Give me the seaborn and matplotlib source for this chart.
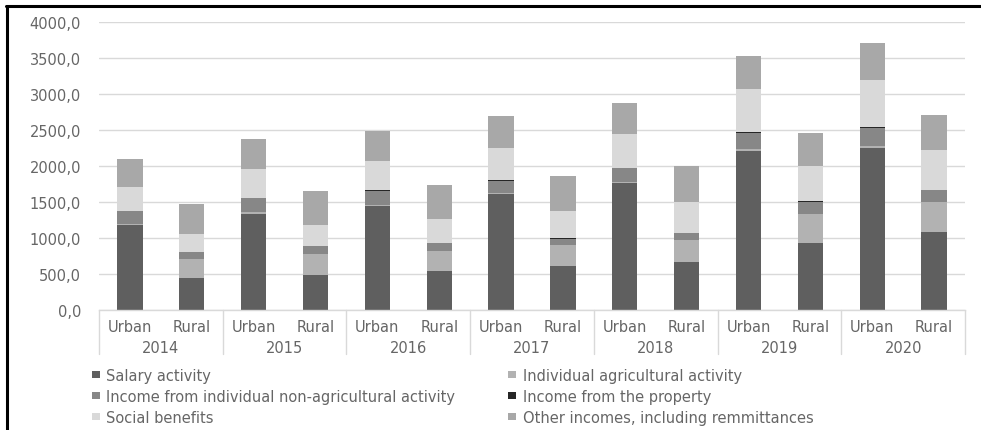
import matplotlib
matplotlib.use("Agg")
import matplotlib.pyplot as plt
import matplotlib.transforms as mtransforms
from matplotlib.lines import Line2D
from matplotlib.patches import Patch
import seaborn as sns
import pandas as pd
import numpy as np

# ---- data ----
years = ["2014", "2015", "2016", "2017", "2018", "2019", "2020"]
areas = ["Urban", "Rural"]

salary = [1187, 452, 1334, 494, 1440, 545, 1607, 609, 1759, 674, 2212, 937, 2253, 1090]
agricultural = [12, 264, 23, 286, 19, 272, 14, 291, 19, 296, 18, 402, 23, 415]
non_agricultural = [172, 94, 194, 108, 198, 113, 178, 94, 189, 98, 234, 157, 254, 159]
property_income = [5, 3, 10, 3, 14, 3, 6, 3, 9, 3, 6, 14, 10, 3]
social_benefits = [332, 249, 392, 291, 397, 327, 448, 379, 466, 425, 596, 494, 655, 558]
other_incomes = [383, 415, 416, 466, 416, 471, 439, 489, 434, 503, 457, 448, 503, 476]

series_names = [
    "Salary activity",
    "Individual agricultural activity",
    "Income from individual non-agricultural activity",
    "Income from the property",
    "Social benefits",
    "Other incomes, including remmittances",
]
series_colors = ["#5f5f5f", "#b2b2b2", "#878787", "#262626", "#d9d9d9", "#a8a8a8"]

y_ticks = [0, 500, 1000, 1500, 2000, 2500, 3000, 3500, 4000]
y_tick_labels = ["0,0", "500,0", "1000,0", "1500,0", "2000,0", "2500,0", "3000,0", "3500,0", "4000,0"]

# ---- figure ----
sns.set_theme(style="white")
plt.rcParams["font.family"] = ["DejaVu Sans"]
FS = 10.5
TXT = "#666666"

W, H = 981, 431
fig = plt.figure(figsize=(W / 100, H / 100), dpi=100)
ax_left, ax_right, ax_bottom_px, ax_top_px = 99, 965, 311.3, 22.7
ax = fig.add_axes([ax_left / W, 1 - ax_bottom_px / H,
                   (ax_right - ax_left) / W, (ax_bottom_px - ax_top_px) / H])

cats = [f"{y} {a}" for y in years for a in areas]
df = pd.DataFrame({"cat": cats})
for name, vals in zip(series_names, [salary, agricultural, non_agricultural,
                                     property_income, social_benefits, other_incomes]):
    df[name] = vals
cum = df[series_names].cumsum(axis=1)

for name, col in reversed(list(zip(series_names, series_colors))):
    layer = pd.DataFrame({"cat": df["cat"], "value": cum[name]})
    sns.barplot(data=layer, x="cat", y="value", order=cats, color=col,
                width=0.41, saturation=1, errorbar=None, linewidth=0, ax=ax)

ax.set_xlabel("")
ax.set_ylabel("")
ax.set_ylim(0, 4000)
ax.set_xlim(-0.5, len(cats) - 0.5)
ax.set_yticks(y_ticks)
ax.set_yticklabels(y_tick_labels, fontsize=FS, color=TXT)
ax.set_xticks(range(len(cats)))
ax.set_xticklabels(areas * len(years), fontsize=FS, color=TXT)
ax.tick_params(axis="y", length=0, pad=13)
ax.tick_params(axis="x", length=0, pad=6)
ax.set_axisbelow(True)
ax.yaxis.grid(True, color="#d9d9d9", lw=1)
for s in ["top", "right", "left"]:
    ax.spines[s].set_visible(False)
ax.spines["bottom"].set_color("#d9d9d9")
ax.spines["bottom"].set_linewidth(1)

blend = mtransforms.blended_transform_factory(ax.transData, ax.transAxes)
axh = ax_bottom_px - ax_top_px
for b in np.arange(-0.5, len(cats), 2):
    ax.plot([b, b], [0, -44 / axh], transform=blend, color="#d9d9d9", lw=1, clip_on=False)
for i, yr in enumerate(years):
    ax.text(2 * i + 0.5, -37 / axh, yr, transform=blend, ha="center", va="center",
            fontsize=FS, color=TXT)

# legend: two columns placed where the reference has them (row-wise order)
leg_kw = dict(loc="upper left", frameon=False, fontsize=FS,
              handlelength=0.55, handleheight=0.42, handletextpad=0.45,
              labelspacing=0.42, borderaxespad=0, borderpad=0, labelcolor=TXT)
col1 = [0, 2, 4]
col2 = [1, 3, 5]
fig.legend([Patch(facecolor=series_colors[i], edgecolor="none") for i in col1],
           [series_names[i] for i in col1],
           bbox_to_anchor=(91.5 / W, 1 - 368.5 / H), **leg_kw)
fig.legend([Patch(facecolor=series_colors[i], edgecolor="none") for i in col2],
           [series_names[i] for i in col2],
           bbox_to_anchor=(508 / W, 1 - 368.5 / H), **leg_kw)

# outer frame (top and left edges visible in the reference)
fig.add_artist(Line2D([6 / W, 1], [1 - 7 / H, 1 - 7 / H], transform=fig.transFigure,
                      color="black", lw=2.2))
fig.add_artist(Line2D([6.5 / W, 6.5 / W], [0, 1 - 7 / H], transform=fig.transFigure,
                      color="black", lw=2.2))

fig.savefig("out.png", dpi=100)
